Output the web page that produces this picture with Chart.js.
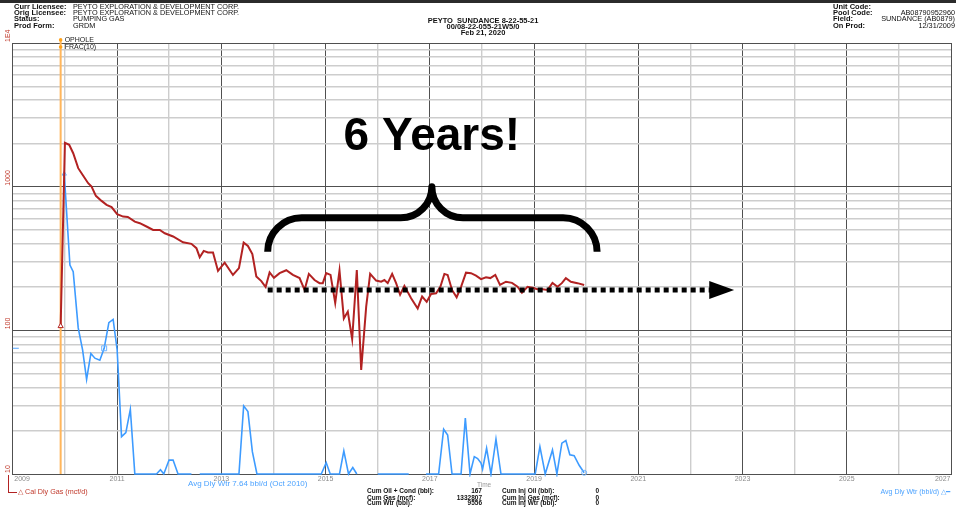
<!DOCTYPE html>
<html>
<head>
<meta charset="utf-8">
<script src="https://cdn.jsdelivr.net/npm/chart.js@4.4.1/dist/chart.umd.min.js"></script>
<style>
  html, body { margin: 0; padding: 0; background: #fff; }
  #wrap { position: relative; width: 956px; height: 508px; overflow: hidden; font-family: "Liberation Sans", Arial, sans-serif; }
  #topbar { position: absolute; left: 0; top: 0; width: 956px; height: 3px; background: #2b2b2b; }
  canvas { position: absolute; left: 0; top: 0; }
  .t { position: absolute; white-space: nowrap; font-size: 7.3px; line-height: 1; color: #111; }
  .b { font-weight: bold; font-size: 7.5px; }
  .f { font-size: 6.5px; font-weight: bold; }
  .r { text-align: right; }
</style>
</head>
<body>
<div id="wrap">
  <div id="topbar"></div>
  <canvas id="chart" width="956" height="508"></canvas>

  <!-- header left -->
  <div class="t b" style="left:14px;top:3.1px">Curr Licensee:</div>
  <div class="t b" style="left:14px;top:9.1px">Orig Licensee:</div>
  <div class="t b" style="left:14px;top:15.1px">Status:</div>
  <div class="t b" style="left:14px;top:21.5px">Prod Form:</div>
  <div class="t" style="left:73px;top:3.2px">PEYTO EXPLORATION &amp; DEVELOPMENT CORP.</div>
  <div class="t" style="left:73px;top:9.2px">PEYTO EXPLORATION &amp; DEVELOPMENT CORP.</div>
  <div class="t" style="left:73px;top:15.2px">PUMPING GAS</div>
  <div class="t" style="left:73px;top:21.6px">GRDM</div>

  <!-- header centre -->
  <div class="t b" style="left:383px;width:200px;text-align:center;top:17.3px">PEYTO&nbsp; SUNDANCE 8-22-55-21</div>
  <div class="t b" style="left:383px;width:200px;text-align:center;top:23px">00/08-22-055-21W5/0</div>
  <div class="t b" style="left:383px;width:200px;text-align:center;top:29.4px">Feb 21, 2020</div>

  <!-- header right -->
  <div class="t b" style="left:833px;top:2.5px">Unit Code:</div>
  <div class="t b" style="left:833px;top:9.1px">Pool Code:</div>
  <div class="t b" style="left:833px;top:15.1px">Field:</div>
  <div class="t b" style="left:833px;top:21.8px">On Prod:</div>
  <div class="t r" style="right:1px;top:9.2px">AB08790952960</div>
  <div class="t r" style="right:1px;top:15.2px">SUNDANCE (AB0879)</div>
  <div class="t r" style="right:1px;top:21.9px">12/31/2009</div>

  <!-- footer -->
  <div class="t" style="left:477px;top:481.5px;font-size:6.5px;color:#999">Time</div>
  <div class="t" style="left:188px;top:479.8px;font-size:8px;color:#4da3ff">Avg Dly Wtr 7.64 bbl/d (Oct 2010)</div>
  <div style="position:absolute;left:7.5px;top:475px;width:8px;height:17px;border-left:1.6px solid #b22222;border-bottom:1.6px solid #b22222"></div>
  <div class="t" style="left:18px;top:488px;font-size:7.2px;color:#c0392b">&#9651; Cal Dly Gas (mcf/d)</div>
  <div class="t" style="left:880.5px;top:488.2px;font-size:7px;color:#4da3ff">Avg Dly Wtr (bbl/d) &#9651;&#9473;</div>

  <div class="t f" style="left:367px;top:488.4px">Cum Oil + Cond (bbl):</div>
  <div class="t f" style="left:367px;top:494.7px">Cum Gas (mcf):</div>
  <div class="t f" style="left:367px;top:500.4px">Cum Wtr (bbl):</div>
  <div class="t f r" style="right:474px;top:488.4px">167</div>
  <div class="t f r" style="right:474px;top:494.7px">1332807</div>
  <div class="t f r" style="right:474px;top:500.4px">9556</div>
  <div class="t f" style="left:502px;top:488.4px">Cum Inj Oil (bbl):</div>
  <div class="t f" style="left:502px;top:494.7px">Cum Inj Gas (mcf):</div>
  <div class="t f" style="left:502px;top:500.4px">Cum Inj Wtr (bbl):</div>
  <div class="t f r" style="right:357px;top:488.4px">0</div>
  <div class="t f r" style="right:357px;top:494.7px">0</div>
  <div class="t f r" style="right:357px;top:500.4px">0</div>
</div>

<script>
// axis setup
const yearTicks = [2009, 2010, 2011, 2012, 2013, 2014, 2015, 2016, 2017, 2018, 2019, 2020, 2021, 2022, 2023, 2024, 2025, 2026, 2027];
const yearLabels = [2009, 2011, 2013, 2015, 2017, 2019, 2021, 2023, 2025, 2027];
const rateGrid = [10, 20, 30, 40, 50, 60, 70, 80, 90, 100, 200, 300, 400, 500, 600, 700, 800, 900,
                  1000, 2000, 3000, 4000, 5000, 6000, 7000, 8000, 9000, 10000];
const rateLabels = [10, 100, 1000, 10000];
const rateLabelText = ["10", "100", "1000", "1E4"];

// Cal Dly Gas (mcf/d)
const gasTime = [2009.918, 2010.000, 2010.082, 2010.159, 2010.255, 2010.351, 2010.446, 2010.511, 2010.594, 2010.703,
  2010.799, 2010.895, 2011.002, 2011.117, 2011.207, 2011.341, 2011.437, 2011.565, 2011.692, 2011.820,
  2011.916, 2012.075, 2012.266, 2012.427, 2012.523, 2012.586, 2012.663, 2012.745, 2012.841, 2012.937,
  2013.065, 2013.224, 2013.339, 2013.429, 2013.511, 2013.596, 2013.672, 2013.768, 2013.851, 2013.927,
  2014.010, 2014.119, 2014.247, 2014.374, 2014.502, 2014.598, 2014.680, 2014.789, 2014.885, 2014.948,
  2015.013, 2015.096, 2015.186, 2015.268, 2015.351, 2015.427, 2015.511, 2015.600, 2015.684, 2015.780,
  2015.856, 2015.971, 2016.067, 2016.130, 2016.193, 2016.278, 2016.354, 2016.431, 2016.513, 2016.642,
  2016.768, 2016.853, 2016.941, 2017.025, 2017.121, 2017.203, 2017.280, 2017.343, 2017.427, 2017.515,
  2017.600, 2017.695, 2017.791, 2017.887, 2017.983, 2018.079, 2018.161, 2018.257, 2018.347, 2018.462,
  2018.577, 2018.684, 2018.768, 2018.875, 2018.971, 2019.067, 2019.163, 2019.259, 2019.354, 2019.450,
  2019.534, 2019.611, 2019.707, 2019.833, 2019.962];
const gasRate = [107, 2020, 1955, 1710, 1345, 1190, 1057, 1000, 863, 796,
  747, 720, 643, 619, 615, 571, 557, 528, 500, 500,
  474, 450, 410, 400, 373, 323, 357, 348, 348, 259,
  296, 243, 271, 408, 387, 340, 237, 220, 200, 253,
  232, 250, 262, 243, 231, 191, 247, 224, 213, 213,
  250, 243, 155, 261, 121, 135, 87, 263, 53, 146,
  247, 222, 218, 224, 213, 247, 213, 177, 204, 167,
  142, 172, 158, 179, 181, 201, 247, 243, 191, 170,
  201, 252, 250, 240, 227, 234, 231, 243, 207, 218,
  214, 201, 183, 201, 198, 193, 193, 191, 214, 201,
  213, 231, 218, 213, 207];

// Avg Dly Wtr (bbl/d), null = no value
const wtrTime = [2009.987, 2010.096, 2010.159, 2010.255, 2010.339, 2010.416, 2010.498, 2010.575, 2010.670, 2010.753,
  2010.843, 2010.925, 2011.002, 2011.086, 2011.169, 2011.255, 2011.341, 2011.757, 2011.833, 2011.897,
  2011.998, 2012.075, 2012.170, 2012.427, 2012.500, 2012.586, 2013.339, 2013.429, 2013.511, 2013.596,
  2013.684, 2014.918, 2015.013, 2015.090, 2015.268, 2015.351, 2015.441, 2015.523, 2015.600, 2015.800,
  2016.002, 2016.596, 2016.750, 2016.929, 2017.170, 2017.266, 2017.343, 2017.427, 2017.600, 2017.682,
  2017.772, 2017.854, 2017.918, 2017.983, 2018.013, 2018.090, 2018.174, 2018.270, 2018.366, 2019.023,
  2019.113, 2019.215, 2019.354, 2019.439, 2019.534, 2019.611, 2019.687, 2019.770, 2019.866, 2019.962];
const wtrRate = [1227, 285, 256, 104, 73, 45.6, 69, 64, 62, 75,
  113, 119, 73, 18.2, 19.4, 28.2, 10, 10, 10.7, 10,
  12.5, 12.5, 10, 10, null, 10, 10, 29.8, 27.2, 14.3,
  10, 10, 12, 10, 10, 14.5, 10, 11.1, 10, null,
  10, 10, null, 10, 10, 20.5, 18.7, 10, 10, 24.5,
  10, 13.2, 12.8, 11.9, 10.8, 15.1, 10, 17.5, 10, 10,
  15.5, 10, 14.7, 10, 16.4, 17.1, 13.6, 13.4, 11.5, 10.2];
const wtrAvgIndex = 9; // Oct 2010 average marker

// events and annotation
const eventYear = 2009.918;
const eventNames = ["OPHOLE", "FRAC(10)"];
const braceStart = 2013.89, braceEnd = 2020.21, braceMid = 2017.04;
const braceBase = 607, braceTip = 352, bracePeak = 1000;
const trendRate = 191, trendEnd = 2022.40, arrowTip = 2022.84;
const titleRate = 1803;

const RED = "#b22222";
const BLUE = "#3d9bff";
const DARK = "#505050";
const LIGHT = "#cdcdcd";

function isDecade(v) {
  const l = Math.log10(v);
  return Math.abs(l - Math.round(l)) < 1e-6;
}

const overlay = {
  id: "overlay",
  beforeDatasetsDraw(chart) {
    const { ctx, scales: { x }, chartArea } = chart;
    const ex = x.getPixelForValue(eventYear);
    ctx.save();
    ctx.strokeStyle = "#ffb65c";
    ctx.lineWidth = 2;
    ctx.beginPath();
    ctx.moveTo(ex, 38);
    ctx.lineTo(ex, chartArea.bottom);
    ctx.stroke();
    ctx.restore();
  },
  afterDatasetsDraw(chart) {
    const { ctx, scales: { x, y }, chartArea } = chart;
    ctx.save();

    // event markers
    const ex = x.getPixelForValue(eventYear);
    ctx.font = "7px 'Liberation Sans', Arial, sans-serif";
    ctx.textBaseline = "middle";
    eventNames.forEach((n, i) => {
      const ey = 40 + i * 7;
      ctx.fillStyle = "#ffa31a";
      ctx.beginPath();
      ctx.arc(ex, ey, 1.8, 0, Math.PI * 2);
      ctx.fill();
      ctx.fillStyle = "#222";
      ctx.fillText(n, ex + 4, ey + 0.5);
    });

    // y labels (rotated)
    ctx.fillStyle = "#c0392b";
    ctx.font = "7px 'Liberation Sans', Arial, sans-serif";
    rateLabels.forEach((v, i) => {
      const py = y.getPixelForValue(v);
      ctx.save();
      ctx.translate(8, py - 1);
      ctx.rotate(-Math.PI / 2);
      ctx.textAlign = "left";
      ctx.textBaseline = "middle";
      ctx.fillText(rateLabelText[i], 0, 0);
      ctx.restore();
    });

    // x labels
    ctx.fillStyle = "#8a8a8a";
    ctx.font = "7px 'Liberation Sans', Arial, sans-serif";
    ctx.textBaseline = "middle";
    yearLabels.forEach((yr, i) => {
      let px = x.getPixelForValue(yr);
      ctx.textAlign = "center";
      if (i === 0) { ctx.textAlign = "left"; px += 1.5; }
      if (i === yearLabels.length - 1) { ctx.textAlign = "right"; px -= 0.5; }
      ctx.fillText(String(yr), px, chartArea.bottom + 5.5);
    });

    // water average tick on left axis
    const wy = y.getPixelForValue(wtrRate[wtrAvgIndex]);
    ctx.strokeStyle = "#6fb4ff";
    ctx.lineWidth = 1.2;
    ctx.beginPath();
    ctx.moveTo(chartArea.left, wy);
    ctx.lineTo(chartArea.left + 6, wy);
    ctx.stroke();

    // curly brace
    const xl = x.getPixelForValue(braceStart);
    const xr = x.getPixelForValue(braceEnd);
    const xm = x.getPixelForValue(braceMid);
    const yb = y.getPixelForValue(braceBase);
    const yt = y.getPixelForValue(braceTip);
    const yp = y.getPixelForValue(bracePeak);
    const r1 = yt - yb, r2 = yb - yp;
    ctx.strokeStyle = "#000";
    ctx.lineWidth = 7;
    ctx.lineJoin = "round";
    ctx.beginPath();
    ctx.moveTo(xl, yt);
    ctx.arcTo(xl, yb, xl + r1, yb, r1);
    ctx.lineTo(xm - r2, yb);
    ctx.arcTo(xm, yb, xm, yp, r2);
    ctx.arcTo(xm, yb, xm + r2, yb, r2);
    ctx.lineTo(xr - r1, yb);
    ctx.arcTo(xr, yb, xr, yt, r1);
    ctx.stroke();

    // dotted trend arrow
    const ty = y.getPixelForValue(trendRate);
    const xe = x.getPixelForValue(trendEnd);
    const xt = x.getPixelForValue(arrowTip);
    ctx.lineWidth = 5;
    ctx.setLineDash([5, 4]);
    ctx.beginPath();
    ctx.moveTo(xl, ty);
    ctx.lineTo(xe, ty);
    ctx.stroke();
    ctx.setLineDash([]);
    ctx.fillStyle = "#000";
    ctx.beginPath();
    ctx.moveTo(xe - 2, ty - 9);
    ctx.lineTo(xt, ty);
    ctx.lineTo(xe - 2, ty + 9);
    ctx.closePath();
    ctx.fill();

    // title annotation
    ctx.font = "bold 46px 'Liberation Sans', Arial, sans-serif";
    ctx.textAlign = "center";
    ctx.textBaseline = "alphabetic";
    ctx.fillText("6 Years!", xm, y.getPixelForValue(titleRate));

    ctx.restore();
  }
};

new Chart(document.getElementById("chart"), {
  type: "line",
  data: {
    datasets: [
      {
        label: "Cal Dly Gas (mcf/d)",
        data: gasTime.map((t, i) => ({ x: t, y: gasRate[i] })),
        borderColor: RED,
        borderWidth: 2,
        tension: 0,
        pointStyle: "triangle",
        pointRadius: c => (c.dataIndex === 0 ? 3 : 0),
        pointBorderColor: RED,
        pointBackgroundColor: "#fff",
        pointBorderWidth: 1
      },
      {
        label: "Avg Dly Wtr (bbl/d)",
        data: wtrTime.map((t, i) => ({ x: t, y: wtrRate[i] })),
        borderColor: BLUE,
        borderWidth: 1.6,
        tension: 0,
        spanGaps: false,
        clip: { left: 0, top: 0, right: 0, bottom: 3 },
        pointStyle: c => (c.dataIndex === wtrAvgIndex ? "rect" : (c.dataIndex === 0 ? "triangle" : "circle")),
        pointRadius: c => {
          if (c.dataIndex === wtrAvgIndex) return 3.5;
          if (c.dataIndex === 0 || c.dataIndex === wtrTime.length - 1) return 2.5;
          return 0;
        },
        pointBorderColor: "#6fb4ff",
        pointBackgroundColor: "rgba(255,255,255,0)",
        pointBorderWidth: 1
      }
    ]
  },
  options: {
    responsive: false,
    animation: false,
    events: [],
    layout: { padding: { left: 12.8, top: 43, right: 3.5, bottom: 34 } },
    plugins: { legend: { display: false }, tooltip: { enabled: false } },
    scales: {
      x: {
        type: "linear",
        min: 2009,
        max: 2027,
        afterBuildTicks: axis => { axis.ticks = yearTicks.map(v => ({ value: v })); },
        ticks: { display: false },
        grid: {
          drawTicks: false,
          color: c => (c.tick && c.tick.value % 2 === 1 ? DARK : LIGHT),
          lineWidth: c => (c.tick && c.tick.value % 2 === 1 ? 1 : 1.4)
        },
        border: { display: true, color: DARK, width: 1 }
      },
      y: {
        type: "logarithmic",
        min: 10,
        max: 10000,
        afterBuildTicks: axis => { axis.ticks = rateGrid.map(v => ({ value: v })); },
        ticks: { display: false },
        grid: {
          drawTicks: false,
          color: c => (c.tick && isDecade(c.tick.value) ? DARK : LIGHT),
          lineWidth: c => (c.tick && isDecade(c.tick.value) ? 1 : 1.4)
        },
        border: { display: true, color: DARK, width: 1 }
      }
    }
  },
  plugins: [overlay]
});
</script>
</body>
</html>
